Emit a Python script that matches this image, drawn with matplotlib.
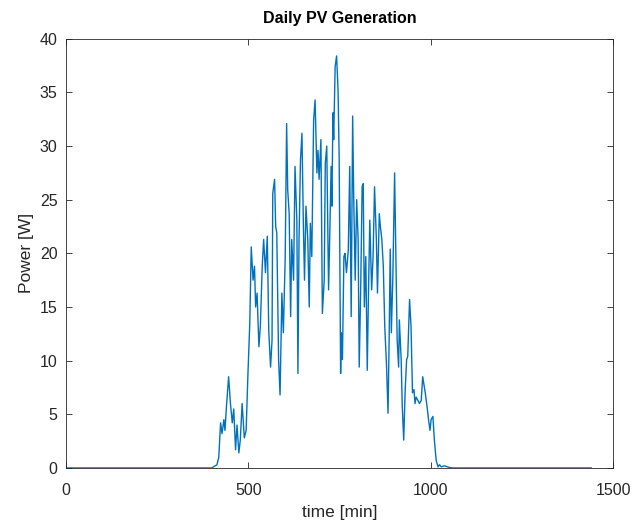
import matplotlib
matplotlib.use("Agg")
import matplotlib.pyplot as plt

# minute of day and PV power [W]
minutes = [0, 400, 414, 419, 424, 428, 433, 436, 440, 446, 451, 456, 460, 465, 469,
           474, 478, 483, 489, 494, 499, 504, 508, 513, 517, 520, 524, 529, 533, 538,
           542, 547, 552, 556, 561, 565, 567, 572, 575, 578, 583, 587, 592, 596, 601,
           605, 608, 612, 616, 619, 624, 628, 633, 636, 639, 643, 647, 651, 654, 658,
           663, 667, 670, 674, 679, 683, 688, 691, 694, 699, 703, 708, 711, 715, 720,
           723, 727, 729, 732, 734, 738, 742, 746, 749, 753, 755, 758, 762, 765, 769,
           774, 778, 782, 786, 789, 793, 797, 801, 804, 808, 812, 815, 818, 822, 826,
           830, 833, 838, 842, 846, 851, 854, 859, 862, 866, 870, 874, 879, 883, 886,
           889, 892, 896, 901, 905, 908, 912, 914, 919, 922, 926, 930, 934, 937, 942,
           946, 950, 954, 957, 960, 965, 969, 974, 978, 985, 990, 994, 998, 1001, 1006,
           1010, 1015, 1020, 1024, 1029, 1038, 1050, 1060, 1440]
power = [0.0, 0.0, 0.3, 1.0, 4.2, 3.2, 4.5, 3.5, 5.7, 8.5, 6.0, 4.2, 5.5, 1.7, 4.0,
         1.4, 2.6, 6.0, 2.8, 3.5, 8.8, 13.5, 20.6, 17.5, 18.8, 15.0, 16.3, 11.3, 13.2, 18.7,
         21.3, 18.2, 21.6, 12.8, 9.4, 11.9, 25.6, 26.9, 22.5, 21.9, 10.1, 6.8, 16.3, 12.6, 19.4,
         32.1, 25.9, 23.7, 14.1, 21.3, 17.5, 28.1, 23.1, 8.8, 21.3, 28.7, 31.2, 22.5, 17.5, 24.4,
         21.3, 15.0, 22.8, 19.7, 32.4, 34.3, 27.5, 29.6, 26.9, 30.6, 14.4, 17.5, 28.4, 30.0, 16.6,
         21.3, 28.1, 24.4, 33.1, 30.6, 37.4, 38.4, 35.2, 29.0, 8.8, 12.6, 10.1, 19.7, 20.0, 18.2,
         20.3, 28.1, 14.1, 32.8, 25.0, 17.5, 25.0, 21.3, 9.4, 16.6, 26.2, 26.5, 15.0, 19.7, 9.1,
         17.5, 23.1, 16.6, 19.7, 26.2, 21.3, 16.3, 23.7, 22.5, 21.3, 18.8, 13.2, 9.4, 5.1, 12.0,
         20.4, 12.6, 17.5, 27.5, 18.2, 11.9, 9.4, 13.8, 10.1, 5.7, 2.6, 7.3, 10.1, 10.4, 15.7,
         13.2, 7.0, 7.3, 6.0, 6.6, 6.3, 6.0, 6.3, 8.5, 7.0, 5.7, 4.5, 3.5, 4.5, 4.8,
         2.6, 0.7, 0.1, 0.3, 0.1, 0.2, 0.05, 0.0, 0.0]

x_ticks = [0, 500, 1000, 1500]
y_ticks = [0, 5, 10, 15, 20, 25, 30, 35, 40]

plt.rcParams['font.family'] = ['Liberation Sans', 'DejaVu Sans']
ax_color = (0.15, 0.15, 0.15)

fig = plt.figure(figsize=(6.4, 5.24), dpi=100)
ax = fig.add_axes([0.103, 0.107, 0.855, 0.819])
ax.plot(minutes, power, color='#0072BD', linewidth=1.0)
ax.set_xlim(0, 1500)
ax.set_ylim(0, 40)
ax.set_xticks(x_ticks)
ax.set_yticks(y_ticks)
ax.tick_params(direction='in', top=True, right=True, length=4, width=0.6,
               colors=ax_color, labelsize=11.5)
ax.tick_params(axis='x', pad=11)
ax.tick_params(axis='y', pad=6)
for s in ax.spines.values():
    s.set_color(ax_color)
    s.set_linewidth(0.6)
ax.set_title('Daily PV Generation', fontsize=11.5, fontweight='bold', color='black', pad=11)
ax.set_xlabel('time [min]', fontsize=12.5, color=ax_color, labelpad=5)
ax.set_ylabel('Power [W]', fontsize=12.5, color=ax_color, labelpad=4)

fig.savefig('out.png', dpi=100)
